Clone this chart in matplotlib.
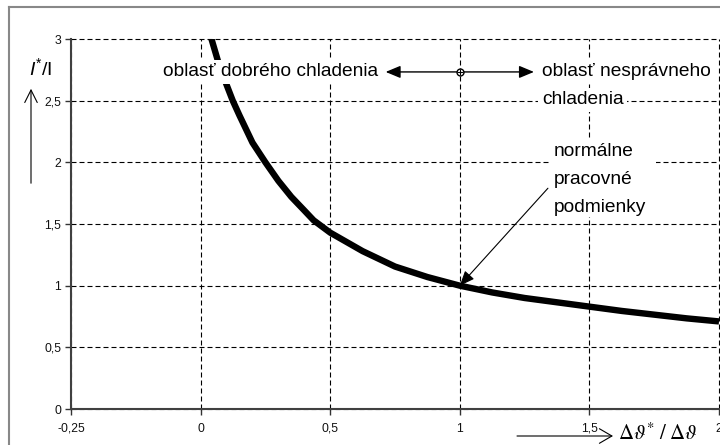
import matplotlib
matplotlib.use("Agg")
import matplotlib.pyplot as plt
from matplotlib.lines import Line2D
from matplotlib.patches import Rectangle, FancyArrowPatch

plt.rcParams['font.family'] = ['Liberation Sans', 'DejaVu Sans']
plt.rcParams['mathtext.fontset'] = 'custom'
plt.rcParams['mathtext.rm'] = 'Liberation Sans'
plt.rcParams['mathtext.it'] = 'Liberation Sans:italic'

# Data (x positions on the chart's equally spaced axis)
curve_x = [0.042, 0.07, 0.1, 0.124, 0.15, 0.2, 0.25, 0.3, 0.35, 0.4, 0.436,
           0.5, 0.625, 0.75, 0.875, 1.0, 1.125, 1.25, 1.375, 1.5, 1.625,
           1.75, 1.875, 2.0]
curve_y = [3.0, 2.8, 2.63, 2.5, 2.38, 2.16, 2.0, 1.85, 1.72, 1.61, 1.53,
           1.43, 1.28, 1.155, 1.07, 1.0, 0.945, 0.9, 0.865, 0.83, 0.795,
           0.765, 0.735, 0.71]
x_ticks = [-0.5, 0, 0.5, 1, 1.5, 2]
x_tick_labels = ['-0,25', '0', '0,5', '1', '1,5', '2']
y_ticks = [0, 0.5, 1, 1.5, 2, 2.5, 3]
y_tick_labels = ['0', '0,5', '1', '1,5', '2', '2,5', '3']
label_good = 'oblasť dobrého chladenia'
label_bad = ['oblasť nesprávneho', 'chladenia']
label_normal = ['normálne', 'pracovné', 'podmienky']
normal_point = (1.0, 1.0)

W, H = 720, 445
fig = plt.figure(figsize=(7.2, 4.45), dpi=100)
fig.patch.set_facecolor('white')

def fx(px):
    return px / W

def fy(py):
    return 1 - py / H

ax = fig.add_axes([fx(71), fy(409), fx(719) - fx(71), fy(39) - fy(409)])
ax.set_xlim(-0.5, 2)
ax.set_ylim(0, 3)
ax.set_axisbelow(True)

ax.plot(curve_x, curve_y, color='black', lw=4.6, solid_capstyle='butt',
        solid_joinstyle='round', zorder=2)

ax.set_xticks(x_ticks)
ax.set_xticklabels(x_tick_labels)
ax.set_yticks(y_ticks)
ax.set_yticklabels(y_tick_labels)
ax.tick_params(axis='both', labelsize=8.8, colors='#333333', length=4, width=1,
               direction='out')
ax.tick_params(axis='x', pad=6)
ax.tick_params(axis='y', pad=3)
for lbl in ax.get_xticklabels() + ax.get_yticklabels():
    lbl.set_color('#111111')

ax.grid(True, color='black', lw=0.8, linestyle=(0, (4.5, 2.7)))
for gl in ax.get_xgridlines() + ax.get_ygridlines():
    gl.set_clip_on(False)

for s in ['top', 'right']:
    ax.spines[s].set_visible(False)
for s in ['left', 'bottom']:
    ax.spines[s].set_color('#404040')
    ax.spines[s].set_linewidth(1.5)

# texts
box = dict(boxstyle='square,pad=0.2', fc='white', ec='none')
ax.text(0.685, 2.733, label_good, ha='right', va='center', fontsize=13.8,
        bbox=box, zorder=5)
ax.annotate('', xy=(0.714, 2.733), xytext=(1.286, 2.733),
            arrowprops=dict(arrowstyle='<|-|>,head_length=0.6,head_width=0.25',
                            lw=1, color='black', mutation_scale=15,
                            shrinkA=0, shrinkB=0), zorder=6)
ax.plot([1.0], [2.733], marker='o', ms=5, mfc='white', mec='black', mew=1,
        zorder=7)
ax.plot([1.0], [2.733], marker='+', ms=5, color='black', mew=0.8, zorder=8)

ax.text(1.317, 2.733, label_bad[0], ha='left', va='center', fontsize=13.8,
        bbox=box, zorder=5)
ax.text(1.317, 2.506, label_bad[1], ha='left', va='center', fontsize=13.8,
        bbox=box, zorder=5)

ax.add_patch(Rectangle((1.344, 1.557), 1.757 - 1.344, 2.18 - 1.557,
                       fc='white', ec='none', zorder=4))
for i, t in enumerate(label_normal):
    py = 152 + 28 * i
    ax.text(1.363, (409 - py) / 123.3, t, ha='left', va='center',
            fontsize=13.8, zorder=5)

ax.annotate('', xy=normal_point, xytext=(1.34, 1.79),
            arrowprops=dict(arrowstyle='-|>,head_length=0.6,head_width=0.25',
                            lw=0.8, color='black', mutation_scale=15,
                            shrinkA=0, shrinkB=0), zorder=6)

# y label and arrow
fig.text(fx(41), fy(68), r'$I^{*}$/I', ha='center', va='center', fontsize=14)
fig.add_artist(FancyArrowPatch(
    (fx(31), fy(186)), (fx(31), fy(86)), transform=fig.transFigure,
    arrowstyle='->,head_length=0.6,head_width=0.3', mutation_scale=15,
    lw=0.8, color='black'))

# x label and arrow
fig.add_artist(FancyArrowPatch(
    (fx(517), fy(436)), (fx(613), fy(436)), transform=fig.transFigure,
    arrowstyle='->,head_length=0.6,head_width=0.35', mutation_scale=15,
    lw=0.8, color='black', shrinkA=0, shrinkB=0))
fig.text(fx(618), fy(439.5), r'$\Delta\vartheta^{*}\;/\;\Delta\vartheta$',
         ha='left', va='baseline', fontsize=15, math_fontfamily='stix')

# outer frame
fig.add_artist(Line2D([fx(9), fx(720)], [fy(7), fy(7)], color='#888888',
                      lw=1.5, transform=fig.transFigure))
fig.add_artist(Line2D([fx(9), fx(9)], [fy(7), 0], color='#888888',
                      lw=1.5, transform=fig.transFigure))

fig.savefig('out.png', dpi=100)
